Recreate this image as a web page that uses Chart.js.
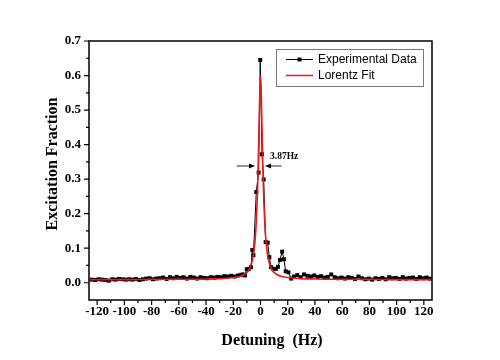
<!DOCTYPE html>
<html><head><meta charset="utf-8">
<script src="https://cdn.jsdelivr.net/npm/chart.js@4/dist/chart.umd.min.js"></script>
<style>html,body{margin:0;padding:0;background:#fff;}</style>
</head><body>
<canvas id="c" width="500" height="360"></canvas>
<script>
// ---- data ----
const xTicks = [-120,-100,-80,-60,-40,-20,0,20,40,60,80,100,120];
const yTicks = [0.0,0.1,0.2,0.3,0.4,0.5,0.6,0.7];

const expX = [
 -124,-121.5,-119,-116.5,-114,-111.5,-109,-106.5,-104,-101.5,-99,-96.5,-94,-91.5,-89,-86.5,-84,-81.5,-79,-76.5,
 -74,-71.5,-69,-66.5,-64,-61.5,-59,-56.5,-54,-51.5,-49,-46.5,-44,-41.5,-39,-36.5,-34,-31.5,-29,-26.5,-24,-21.5,-19,-16.5,
 -14.2,-12.8,-11.4,-10.1,-8.6,-7.0,-6.0,-5.2,-3.1,-1.4,-0.2,1.1,2.3,3.8,5.3,6.5,7.8,9.5,11.2,12.8,14.3,15.9,17.2,18.5,20.5,22.5,24.5,
 27,29.5,32,34.5,37,39.5,42,44.5,47,49.5,52,54.5,57,59.5,62,64.5,67,69.5,72,74.5,77,79.5,82,84.5,87,89.5,92,94.5,97,99.5,
 102,104.5,107,109.5,112,114.5,117,119.5,122,124.5
];
const expY = [
 0.009,0.008,0.010,0.009,0.008,0.006,0.010,0.009,0.011,0.010,0.009,0.010,0.009,0.011,0.008,0.010,0.012,0.013,0.010,0.012,
 0.013,0.015,0.011,0.016,0.013,0.017,0.014,0.016,0.012,0.017,0.015,0.012,0.016,0.014,0.013,0.016,0.015,0.017,0.016,0.019,0.018,0.020,0.018,0.021,
 0.023,0.024,0.021,0.039,0.040,0.045,0.095,0.080,0.263,0.319,0.645,0.372,0.299,0.118,0.116,0.074,0.045,0.040,0.040,0.046,0.066,0.090,0.068,0.033,0.030,0.012,0.018,
 0.022,0.016,0.024,0.020,0.018,0.021,0.017,0.019,0.015,0.017,0.024,0.016,0.013,0.015,0.012,0.016,0.014,0.011,0.018,0.013,0.010,0.012,0.009,0.013,0.011,0.014,0.010,0.016,0.013,0.014,
 0.011,0.016,0.012,0.014,0.015,0.011,0.016,0.013,0.015,0.012
];

const fitX = [-126,-100,-80,-60,-40,-30,-20,-15,-12,-10,-8,-6,-5,-4,-3,-2.5,-2,-1.5,-1,-0.5,0,
              0.5,1,1.5,2,2.5,3,4,5,6,8,10,12,15,20,30,40,60,80,100,126];
const fitY = [0.009,0.009,0.010,0.010,0.011,0.012,0.015,0.019,0.024,0.030,0.041,0.064,0.086,0.122,0.184,0.232,0.295,0.375,0.465,0.555,0.600,
              0.555,0.465,0.375,0.295,0.232,0.184,0.122,0.086,0.064,0.041,0.030,0.024,0.019,0.015,0.012,0.011,0.010,0.010,0.009,0.009];

const seriesNames = ['Experimental Data','Lorentz Fit'];
const xTitle = 'Detuning  (Hz)';
const yTitle = 'Excitation Fraction';
const fwhmLabel = '3.87Hz';

// annotation placement (data units)
const arrowY = 0.338, leftArrow = [-17.5,-4.0], rightArrow = [15.5,3.3], labelPos = [7.0,0.365];

const serif = "'Liberation Serif','Times New Roman',serif";
const sans = "'Liberation Sans',Arial,sans-serif";
const RED = '#e8181c';

const deco = {
  id:'deco',
  afterDraw(chart){
    const {ctx, chartArea:a, scales:{x,y}} = chart;
    ctx.save();
    // frame
    ctx.strokeStyle='#000'; ctx.lineWidth=1.5;
    ctx.strokeRect(a.left, a.top, a.right-a.left, a.bottom-a.top);
    // ticks
    ctx.lineWidth=1.2;
    ctx.beginPath();
    for (let i=0;i<xTicks.length;i++){
      const px = x.getPixelForValue(xTicks[i]);
      ctx.moveTo(px,a.bottom); ctx.lineTo(px,a.bottom+5);
      if (i<xTicks.length-1){
        const pm = x.getPixelForValue((xTicks[i]+xTicks[i+1])/2);
        ctx.moveTo(pm,a.bottom); ctx.lineTo(pm,a.bottom+3);
      }
    }
    for (let i=0;i<yTicks.length;i++){
      const py = y.getPixelForValue(yTicks[i]);
      ctx.moveTo(a.left,py); ctx.lineTo(a.left-5,py);
      if (i<yTicks.length-1){
        const pm = y.getPixelForValue((yTicks[i]+yTicks[i+1])/2);
        ctx.moveTo(a.left,pm); ctx.lineTo(a.left-3,pm);
      }
    }
    ctx.stroke();
    // axis titles
    ctx.fillStyle='#000';
    ctx.font = "bold 16px "+serif;
    ctx.textAlign='center'; ctx.textBaseline='middle';
    ctx.fillText(xTitle, 272, 341);
    ctx.save(); ctx.translate(53,164); ctx.rotate(-Math.PI/2); ctx.fillText(yTitle,0,0); ctx.restore();
    // FWHM annotation
    const ay = y.getPixelForValue(arrowY);
    const arrow = (from,to)=>{
      const x0=x.getPixelForValue(from), x1=x.getPixelForValue(to);
      const dir = Math.sign(x1-x0);
      ctx.beginPath(); ctx.lineWidth=1; ctx.strokeStyle='#222';
      ctx.moveTo(x0,ay); ctx.lineTo(x1-dir*5,ay); ctx.stroke();
      ctx.beginPath(); ctx.fillStyle='#000';
      ctx.moveTo(x1,ay); ctx.lineTo(x1-dir*6,ay-2.6); ctx.lineTo(x1-dir*6,ay+2.6); ctx.closePath(); ctx.fill();
    };
    arrow(leftArrow[0],leftArrow[1]);
    arrow(rightArrow[0],rightArrow[1]);
    ctx.fillStyle='#000'; ctx.font="bold 9.5px "+serif; ctx.textAlign='left';
    ctx.fillText(fwhmLabel, x.getPixelForValue(labelPos[0]), y.getPixelForValue(labelPos[1]));
    // legend
    const L=276, T=49, R=423, B=86;
    ctx.lineWidth=1; ctx.strokeStyle='#777';
    ctx.strokeRect(L+0.5,T+0.5,R-L,B-T);
    const rows=[59.5,75.5];
    ctx.font="12px "+sans; ctx.textBaseline='middle'; ctx.textAlign='left';
    // row 1
    ctx.strokeStyle='#000'; ctx.lineWidth=1;
    ctx.beginPath(); ctx.moveTo(286,rows[0]); ctx.lineTo(313,rows[0]); ctx.stroke();
    ctx.fillStyle='#000'; ctx.fillRect(297.5,rows[0]-2,4,4);
    ctx.fillText(seriesNames[0],318,rows[0]);
    // row 2
    ctx.strokeStyle=RED; ctx.lineWidth=1.5;
    ctx.beginPath(); ctx.moveTo(286,rows[1]); ctx.lineTo(313,rows[1]); ctx.stroke();
    ctx.fillStyle='#000';
    ctx.fillText(seriesNames[1],318,rows[1]);
    ctx.restore();
  }
};

new Chart(document.getElementById('c'), {
  type:'line',
  data:{
    datasets:[
      {label:seriesNames[1], data:fitX.map((v,i)=>({x:v,y:fitY[i]})), borderColor:RED, borderWidth:1.6,
       pointRadius:0, cubicInterpolationMode:'monotone', fill:false, order:0},
      {label:seriesNames[0], data:expX.map((v,i)=>({x:v,y:expY[i]})), borderColor:'#000', borderWidth:1,
       pointStyle:'rect', pointRadius:2.8, pointBackgroundColor:'#000', pointBorderColor:'#000', pointBorderWidth:0,
       tension:0, fill:false, order:1}
    ]
  },
  options:{
    responsive:false, animation:false, devicePixelRatio:1,
    layout:{padding:{left:0,right:68,top:41,bottom:0}},
    plugins:{legend:{display:false}, tooltip:{enabled:false}},
    scales:{
      x:{type:'linear', position:'bottom', min:-126, max:126,
         grid:{display:false, drawTicks:false}, border:{display:false},
         ticks:{color:'#000', font:{family:serif, size:13, weight:'bold'}, padding:4, maxRotation:0, autoSkip:false},
         afterBuildTicks:s=>{s.ticks = xTicks.map(v=>({value:v}));},
         afterFit:s=>{s.height=60;}},
      y:{type:'linear', position:'left', min:-0.05, max:0.7,
         grid:{display:false, drawTicks:false}, border:{display:false},
         ticks:{color:'#000', font:{family:serif, size:13, weight:'bold'}, padding:8,
                callback:v=>Number(v).toFixed(1)},
         afterBuildTicks:s=>{s.ticks = yTicks.map(v=>({value:v}));},
         afterFit:s=>{s.width=89;}}
    }
  },
  plugins:[deco]
});
</script>
</body></html>
